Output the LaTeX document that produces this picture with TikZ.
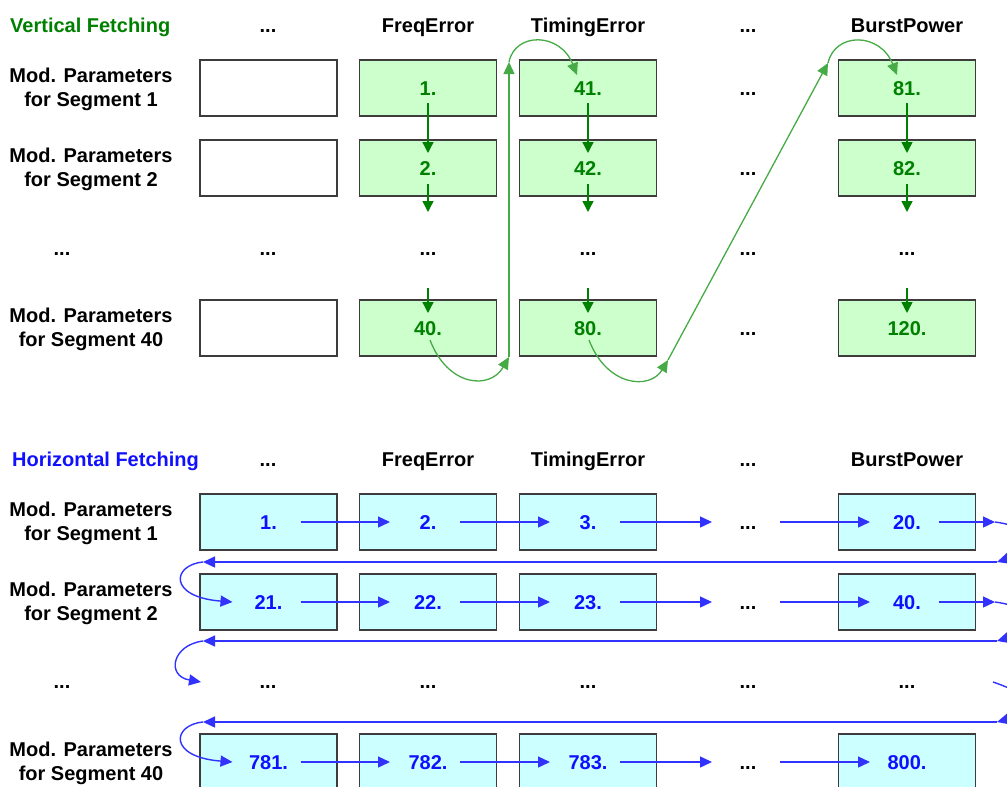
\documentclass[tikz,border=0pt]{standalone}
\usepackage{fontspec}
\setmainfont{Liberation Sans}
\usetikzlibrary{arrows.meta,calc}

\definecolor{vgreen}{RGB}{0,128,0}
\definecolor{vcurve}{RGB}{70,170,70}
\definecolor{vfill}{RGB}{204,255,204}
\definecolor{hblue}{RGB}{16,16,255}
\definecolor{harrow}{RGB}{50,50,255}
\definecolor{hfill}{RGB}{204,255,255}
\definecolor{cellframe}{RGB}{60,60,60}

\begin{document}
\begin{tikzpicture}[x=1pt,y=-1pt,
  every node/.style={font=\fontsize{20}{24}\selectfont\bfseries, inner sep=0pt},
  txt/.style={text height=14.5pt, text depth=0pt},
  rowlabel/.style={align=center},
  cell/.style={draw=cellframe, line width=1.4pt, minimum width=137pt, minimum height=56pt},
  blank/.style={cell, fill=white},
  vcell/.style={cell, fill=vfill, text=vgreen, text height=14.5pt, text depth=0pt},
  hcell/.style={cell, fill=hfill, text=hblue, text height=14.5pt, text depth=0pt},
  vstep/.style={draw=vgreen, line width=1.4pt, -{Triangle[length=11pt,width=11pt]}},
  vjump/.style={draw=vcurve, line width=1.3pt, -{Triangle[length=12pt,width=11pt]}},
  hstep/.style={draw=harrow, line width=1.4pt, -{Triangle[length=12pt,width=11pt]}},
]
\useasboundingbox (0,0) rectangle (1007,787);

%% ---------------- Vertical fetching ----------------
\node[txt, anchor=west, text=vgreen] (vtitle) at (10,25) {Vertical Fetching};
\node[txt] (vh0) at (268,25) {...};
\node[txt] (vh1) at (428,25) {FreqError};
\node[txt] (vh2) at (588,25) {TimingError};
\node[txt] (vh3) at (748,25) {...};
\node[txt] (vh4) at (907,25) {BurstPower};

\node[rowlabel] (vl1) at (91,89) {Mod. Parameters\\for Segment 1};
\node[rowlabel] (vl2) at (91,169) {Mod. Parameters\\for Segment 2};
\node[txt] (vld) at (62,248) {...};
\node[rowlabel] (vl4) at (91,329) {Mod. Parameters\\for Segment 40};

% segment 1
\node[blank] (v10) at (268.5,88) {};
\node[vcell] (v11) at (428,88) {1.};
\node[vcell] (v12) at (588,88) {41.};
\node[txt]   (v13) at (748,88) {...};
\node[vcell] (v14) at (907,88) {81.};
% segment 2
\node[blank] (v20) at (268.5,168) {};
\node[vcell] (v21) at (428,168) {2.};
\node[vcell] (v22) at (588,168) {42.};
\node[txt]   (v23) at (748,168) {...};
\node[vcell] (v24) at (907,168) {82.};
% elided segments
\node[txt] (vd0) at (268,248) {...};
\node[txt] (vd1) at (428,248) {...};
\node[txt] (vd2) at (588,248) {...};
\node[txt] (vd3) at (748,248) {...};
\node[txt] (vd4) at (907,248) {...};
% segment 40
\node[blank] (v40) at (268.5,328) {};
\node[vcell] (v41) at (428,328) {40.};
\node[vcell] (v42) at (588,328) {80.};
\node[txt]   (v43) at (748,328) {...};
\node[vcell] (v44) at (907,328) {120.};

% downward steps inside each column
\foreach \c/\d in {1/1,2/2,4/4}{
  \draw[vstep] ($(v1\c)+(0,15)$) -- ($(v2\c)+(0,-15)$);
  \draw[vstep] ($(v2\c)+(0,16)$) -- ($(vd\d)+(0,-36)$);
  \draw[vstep] ($(vd\d)+(0,40)$) -- ($(v4\c)+(0,-15)$);
}

% jumps from the bottom of one column to the top of the next
\coordinate (vj1) at (509,357);
\coordinate (vj2) at (509,62);
\coordinate (vj3) at (668,360);
\coordinate (vj4) at (828,63);
\draw[vjump] ($(v41)+(2,12)$) .. controls (448,387) and (490,390) .. (vj1);
\draw[vjump] (vj1) -- (vj2);
\draw[vjump] (vj2) .. controls (515,32) and (560,32) .. ($(v12)+(-11,-13)$);
\draw[vjump] ($(v42)+(1,12)$) .. controls (607,387) and (650,390) .. (vj3);
\draw[vjump] (vj3) -- (vj4);
\draw[vjump] (vj4) .. controls (835,32) and (880,32) .. ($(v14)+(-10,-13)$);

%% ---------------- Horizontal fetching ----------------
\node[txt, anchor=west, text=hblue] (htitle) at (12,459) {Horizontal Fetching};
\node[txt] (hh0) at (268,459) {...};
\node[txt] (hh1) at (428,459) {FreqError};
\node[txt] (hh2) at (588,459) {TimingError};
\node[txt] (hh3) at (748,459) {...};
\node[txt] (hh4) at (907,459) {BurstPower};

\node[rowlabel] (hl1) at (91,523) {Mod. Parameters\\for Segment 1};
\node[rowlabel] (hl2) at (91,603) {Mod. Parameters\\for Segment 2};
\node[txt] (hld) at (62,681) {...};
\node[rowlabel] (hl4) at (91,763) {Mod. Parameters\\for Segment 40};

% segment 1
\node[hcell] (h10) at (268.5,522) {1.};
\node[hcell] (h11) at (428,522) {2.};
\node[hcell] (h12) at (588,522) {3.};
\node[txt]   (h13) at (748,522) {...};
\node[hcell] (h14) at (907,522) {20.};
% segment 2
\node[hcell] (h20) at (268.5,602) {21.};
\node[hcell] (h21) at (428,602) {22.};
\node[hcell] (h22) at (588,602) {23.};
\node[txt]   (h23) at (748,602) {...};
\node[hcell] (h24) at (907,602) {40.};
% elided segments
\node[txt] (hd0) at (268,681) {...};
\node[txt] (hd1) at (428,681) {...};
\node[txt] (hd2) at (588,681) {...};
\node[txt] (hd3) at (748,681) {...};
\node[txt] (hd4) at (907,681) {...};
% segment 40
\node[hcell] (h40) at (268.5,762) {781.};
\node[hcell] (h41) at (428,762) {782.};
\node[hcell] (h42) at (588,762) {783.};
\node[txt]   (h43) at (748,762) {...};
\node[hcell] (h44) at (907,762) {800.};

% steps along each row
\foreach \r in {1,2,4}{
  \draw[hstep] ($(h\r0)+(32,0)$) -- ($(h\r1)+(-38,0)$);
  \draw[hstep] ($(h\r1)+(32,0)$) -- ($(h\r2)+(-38,0)$);
  \draw[hstep] ($(h\r2)+(32,0)$) -- ($(h\r3)+(-36,0)$);
  \draw[hstep] ($(h\r3)+(32,0)$) -- ($(h\r4)+(-37,0)$);
}

% wrap from the end of one row to the start of the next
\coordinate (hr1a) at (995,522);
\coordinate (hr1b) at (997,562);
\coordinate (hl1a) at (203,562);
\coordinate (hr2a) at (995,602);
\coordinate (hr2b) at (997,641);
\coordinate (hl2a) at (203,641);
\coordinate (hl2b) at (201,682);
\coordinate (hr3a) at (993,682);
\coordinate (hr3b) at (997,722);
\coordinate (hl3a) at (203,722);

\draw[hstep] ($(h14)+(32,0)$) -- (hr1a);
\draw[hstep] (hr1a) .. controls (1040,528) and (1035,550) .. (hr1b);
\draw[hstep] (hr1b) -- (hl1a);
\draw[hstep] (hl1a) .. controls (172,565) and (168,597) .. ($(h20)+(-36,0)$);

\draw[hstep] ($(h24)+(32,0)$) -- (hr2a);
\draw[hstep] (hr2a) .. controls (1040,608) and (1035,630) .. (hr2b);
\draw[hstep] (hr2b) -- (hl2a);
\draw[hstep] (hl2a) .. controls (172,645) and (166,676) .. (hl2b);

\draw[hstep] (hr3a) .. controls (1040,698) and (1035,712) .. (hr3b);
\draw[hstep] (hr3b) -- (hl3a);
\draw[hstep] (hl3a) .. controls (172,725) and (168,757) .. ($(h40)+(-36,0)$);
\end{tikzpicture}
\end{document}
